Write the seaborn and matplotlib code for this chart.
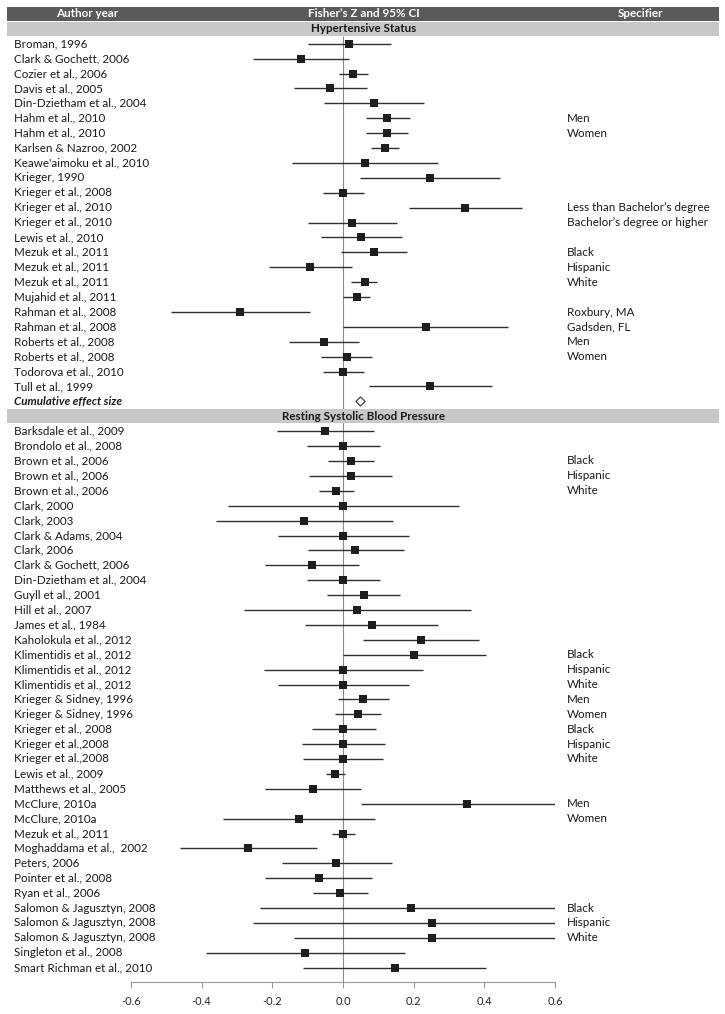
import pandas as pd
import matplotlib
matplotlib.use("Agg")
import matplotlib.pyplot as plt
import matplotlib.transforms as mtransforms
from matplotlib.patches import Rectangle
import seaborn as sns

# Hypertensive status studies
hyp_authors = [
    "Broman, 1996", "Clark & Gochett, 2006", "Cozier et al., 2006", "Davis et al., 2005",
    "Din-Dzietham et al., 2004", "Hahm et al., 2010", "Hahm et al., 2010", "Karlsen & Nazroo, 2002",
    "Keawe'aimoku et al., 2010", "Krieger, 1990", "Krieger et al., 2008", "Krieger et al., 2010",
    "Krieger et al., 2010", "Lewis et al., 2010", "Mezuk et al., 2011", "Mezuk et al., 2011",
    "Mezuk et al., 2011", "Mujahid et al., 2011", "Rahman et al., 2008", "Rahman et al., 2008",
    "Roberts et al., 2008", "Roberts et al., 2008", "Todorova et al., 2010", "Tull et al., 1999",
]
hyp_spec = [
    "", "", "", "", "", "Men", "Women", "", "", "", "", "Less than Bachelor\u2019s degree",
    "Bachelor\u2019s degree or higher", "", "Black", "Hispanic", "White", "", "Roxbury, MA",
    "Gadsden, FL", "Men", "Women", "", "",
]
hyp_z = [0.017, -0.12, 0.028, -0.038, 0.088, 0.125, 0.125, 0.118, 0.063, 0.247, 0.001, 0.345,
         0.026, 0.051, 0.088, -0.093, 0.062, 0.039, -0.291, 0.235, -0.054, 0.010, 0.001, 0.247]
hyp_lo = [-0.10, -0.255, -0.012, -0.14, -0.055, 0.064, 0.066, 0.08, -0.144, 0.047, -0.056, 0.186,
          -0.10, -0.063, -0.005, -0.21, 0.024, 0.001, -0.487, 0.001, -0.152, -0.063, -0.056, 0.073]
hyp_hi = [0.136, 0.016, 0.07, 0.068, 0.228, 0.19, 0.185, 0.159, 0.268, 0.445, 0.059, 0.508,
          0.152, 0.167, 0.181, 0.025, 0.096, 0.077, -0.093, 0.468, 0.045, 0.081, 0.059, 0.421]
hyp_cumulative = 0.049

# Resting systolic blood pressure studies
sbp_authors = [
    "Barksdale et al., 2009", "Brondolo et al., 2008", "Brown et al., 2006", "Brown et al., 2006",
    "Brown et al., 2006", "Clark, 2000", "Clark, 2003", "Clark & Adams, 2004", "Clark, 2006",
    "Clark & Gochett, 2006", "Din-Dzietham et al., 2004", "Guyll et al., 2001", "Hill et al., 2007",
    "James et al., 1984", "Kaholokula et al., 2012", "Klimentidis et al., 2012",
    "Klimentidis et al., 2012", "Klimentidis et al., 2012", "Krieger & Sidney, 1996",
    "Krieger & Sidney, 1996", "Krieger et al., 2008", "Krieger et al.,2008", "Krieger et al.,2008",
    "Lewis et al., 2009", "Matthews et al., 2005", "McClure, 2010a", "McClure, 2010a",
    "Mezuk et al., 2011", "Moghaddama et al.,  2002", "Peters, 2006", "Pointer et al., 2008",
    "Ryan et al., 2006", "Salomon & Jagusztyn, 2008", "Salomon & Jagusztyn, 2008",
    "Salomon & Jagusztyn, 2008", "Singleton et al., 2008", "Smart Richman et al., 2010",
]
sbp_spec = [
    "", "", "Black", "Hispanic", "White", "", "", "", "", "", "", "", "", "", "",
    "Black", "Hispanic", "White", "Men", "Women", "Black", "Hispanic", "White", "", "",
    "Men", "Women", "", "", "", "", "", "Black", "Hispanic", "White", "", "",
]
sbp_z = [-0.051, 0.0, 0.022, 0.022, -0.02, 0.0, -0.109, 0.0, 0.035, -0.088, 0.0, 0.059, 0.039,
         0.081, 0.222, 0.202, 0.0, 0.0, 0.056, 0.042, 0.0, 0.0, 0.0, -0.022, -0.084, 0.35,
         -0.125, 0.0, -0.268, -0.02, -0.068, -0.008, 0.192, 0.252, 0.252, -0.108, 0.146]
sbp_lo = [-0.186, -0.102, -0.042, -0.096, -0.067, -0.325, -0.36, -0.184, -0.10, -0.222, -0.102,
          -0.045, -0.281, -0.108, 0.056, 0.0, -0.224, -0.185, -0.014, -0.022, -0.089, -0.115,
          -0.112, -0.047, -0.22, 0.052, -0.341, -0.03, -0.462, -0.173, -0.22, -0.084, -0.235,
          -0.255, -0.14, -0.387, -0.112]
sbp_hi = [0.087, 0.105, 0.087, 0.138, 0.031, 0.328, 0.142, 0.186, 0.172, 0.045, 0.105, 0.161,
          0.362, 0.268, 0.386, 0.404, 0.227, 0.188, 0.13, 0.108, 0.092, 0.118, 0.114, 0.007,
          0.052, 0.6, 0.091, 0.035, -0.073, 0.138, 0.081, 0.07, 0.6, 0.6, 0.6, 0.176, 0.404]

ticks = [-0.6, -0.4, -0.2, 0.0, 0.2, 0.4, 0.6]

# row slots: 0 header, 1 section, 2..25 studies, 26 cumulative, 27 section, 28.. studies
hyp = pd.DataFrame({"author": hyp_authors, "spec": hyp_spec, "z": hyp_z, "lo": hyp_lo, "hi": hyp_hi})
hyp["row"] = range(2, 2 + len(hyp))
sbp = pd.DataFrame({"author": sbp_authors, "spec": sbp_spec, "z": sbp_z, "lo": sbp_lo, "hi": sbp_hi})
sbp["row"] = range(28, 28 + len(sbp))
studies = pd.concat([hyp, sbp], ignore_index=True)

sns.set_style("white")
plt.rcParams["font.family"] = ["Lato", "DejaVu Sans"]

W, H = 725, 1014
fig = plt.figure(figsize=(W / 100, H / 100), dpi=100)
row_px, row0_px = 14.9, 14.0
top_px, bot_px = 7.0, 982.0
ax = fig.add_axes([131 / W, 1 - bot_px / H, 424 / W, (bot_px - top_px) / H])
ax.set_xlim(-0.6, 0.6)
ax.set_ylim((bot_px - row0_px) / row_px, (top_px - row0_px) / row_px)

trans = mtransforms.blended_transform_factory(fig.transFigure, ax.transData)

# zero reference line
ax.vlines(0, 1.5, (bot_px - row0_px) / row_px, color="#8a8a8a", lw=0.8, zorder=1)

# confidence intervals and point estimates
ax.hlines(studies["row"], studies["lo"], studies["hi"], color="#303030", lw=1.0, zorder=2)
sns.scatterplot(data=studies, x="z", y="row", marker="s", s=34, color="#1e1e1e",
                linewidth=0, ax=ax, zorder=3, legend=False)
ax.scatter([hyp_cumulative], [26], marker="D", s=22, facecolor="white", edgecolor="#333333",
           linewidth=0.8, zorder=3)

# header and section bars
bar_x0, bar_x1 = 7 / W, 719 / W
ax.add_patch(Rectangle((bar_x0, -0.47), bar_x1 - bar_x0, 0.97, transform=trans,
                       facecolor="#5a5a5a", edgecolor="none", clip_on=False, zorder=4))
for r in (1, 27):
    ax.add_patch(Rectangle((bar_x0, r - 0.47), bar_x1 - bar_x0, 0.95, transform=trans,
                           facecolor="#c8c8c8", edgecolor="none", clip_on=False, zorder=4))

fs = 8.4
for x, label in [(87, "Author year"), (364, "Fisher\u2019s Z and 95% CI"), (640, "Specifier")]:
    ax.text(x / W, 0, label, transform=trans, ha="center", va="center", color="white",
            fontsize=fs, fontweight="bold", zorder=5)
ax.text(364 / W, 1, "Hypertensive Status", transform=trans, ha="center", va="center",
        fontsize=fs, fontweight="bold", color="#1a1a1a", zorder=5)
ax.text(364 / W, 27, "Resting Systolic Blood Pressure", transform=trans, ha="center",
        va="center", fontsize=fs, fontweight="bold", color="#1a1a1a", zorder=5)

for _, r in studies.iterrows():
    ax.text(14 / W, r["row"], r["author"], transform=trans, ha="left", va="center",
            fontsize=fs, color="#1a1a1a")
    if r["spec"]:
        ax.text(567 / W, r["row"], r["spec"], transform=trans, ha="left", va="center",
                fontsize=fs, color="#1a1a1a")
ax.text(14 / W, 26, "Cumulative effect size", transform=trans, ha="left", va="center",
        fontsize=fs, fontweight="bold", fontstyle="italic", color="#1a1a1a")

# x axis
sns.despine(ax=ax, left=True, top=True, right=True)
ax.spines["bottom"].set_color("#9a9a9a")
ax.spines["bottom"].set_linewidth(0.8)
ax.set_xticks(ticks)
ax.set_xticklabels([f"{t:.1f}" for t in ticks])
ax.tick_params(axis="x", direction="out", length=4, color="#9a9a9a", labelsize=8,
               labelcolor="#2a2a2a", pad=6, bottom=True)
ax.set_yticks([])
ax.set_xlabel("")
ax.set_ylabel("")

fig.savefig("out.png", dpi=100)
